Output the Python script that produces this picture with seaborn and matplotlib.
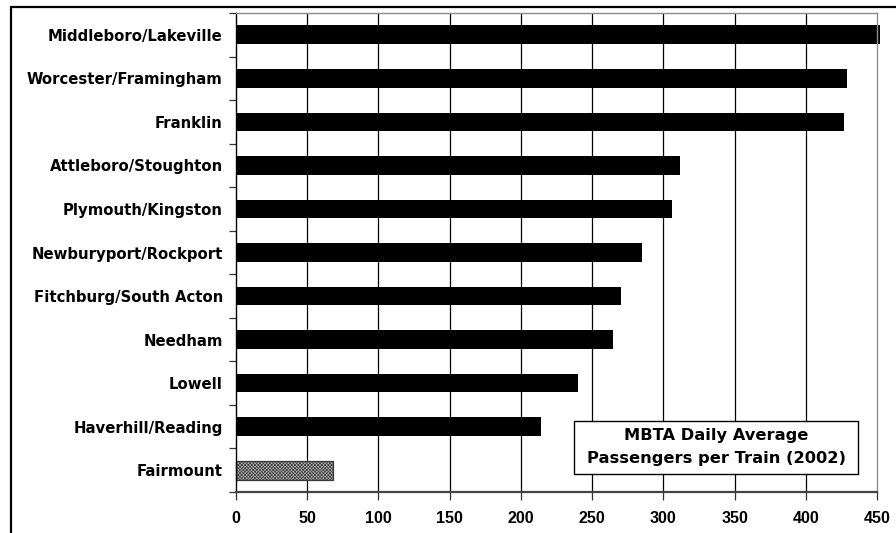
import matplotlib
matplotlib.use("Agg")
import matplotlib.pyplot as plt
from matplotlib.patches import Rectangle
from matplotlib.lines import Line2D
import seaborn as sns
import numpy as np

categories = ["Middleboro/Lakeville", "Worcester/Framingham", "Franklin",
              "Attleboro/Stoughton", "Plymouth/Kingston", "Newburyport/Rockport",
              "Fitchburg/South Acton", "Needham", "Lowell", "Haverhill/Reading",
              "Fairmount"]
passengers = [452, 429, 427, 312, 306, 285, 270, 265, 240, 214, 68]
x_ticks = [0, 50, 100, 150, 200, 250, 300, 350, 400, 450]
box_lines = ["MBTA Daily Average", "Passengers per Train (2002)"]

sns.set_style("white")
plt.rcParams["font.family"] = ["DejaVu Sans"]
plt.rcParams["hatch.linewidth"] = 0.5
plt.rcParams["text.color"] = "black"
plt.rcParams["xtick.color"] = "black"
plt.rcParams["ytick.color"] = "black"
plt.rcParams["axes.labelcolor"] = "black"

W, H = 896, 533
fig = plt.figure(figsize=(W / 100, H / 100), dpi=100)
fig.patch.set_facecolor("white")

left, right, top, bottom = 236, 877, 13, 492
ax = fig.add_axes([left / W, 1 - bottom / H, (right - left) / W, (bottom - top) / H])
ax.set_facecolor("white")

sns.barplot(x=passengers, y=categories, orient="h", width=0.43, color="black",
            saturation=1, ax=ax, zorder=2)
for p in ax.patches:
    p.set_clip_on(False)
    p.set_linewidth(0)
fair = ax.patches[-1]
fair.set_facecolor("#b8b8b8")
fair.set_edgecolor("#3a3a3a")
fair.set_hatch("xxxxxxxxxx")
fair.set_linewidth(0.9)

ax.set_xlim(0, 450)
ax.set_ylim(len(categories) - 0.5, -0.5)
ax.set_xticks(x_ticks)
ax.set_xticklabels([str(v) for v in x_ticks], fontsize=11.5, fontweight="bold",
                   family="Liberation Sans", color="black")
ax.set_xlabel("")
ax.set_ylabel("")

# vertical gridlines
for v in x_ticks[1:-1]:
    ax.axvline(v, color="black", lw=0.9, zorder=1)

ax.tick_params(axis="y", which="major", length=0, pad=9.5, labelsize=10.7,
               labelcolor="black")
for lab in ax.get_yticklabels():
    lab.set_fontweight("bold")
    lab.set_color("black")
ax.set_yticks(np.arange(-0.5, len(categories), 1.0), minor=True)
ax.tick_params(axis="y", which="minor", length=5, width=0.9, color="#333333",
               direction="out", left=True)
ax.tick_params(axis="x", which="major", length=6, width=0.9, color="#333333",
               direction="out", pad=8, bottom=True, labelcolor="black")

for s in ["top", "right"]:
    ax.spines[s].set_color("#8c8c8c")
    ax.spines[s].set_linewidth(1.0)
    ax.spines[s].set_visible(True)
ax.spines["left"].set_color("black")
ax.spines["left"].set_linewidth(1.0)
ax.spines["bottom"].set_color("#444444")
ax.spines["bottom"].set_linewidth(1.6)

# title box
ax.add_patch(Rectangle((0.5273, 0.0376), 0.443, 0.1106, transform=ax.transAxes,
                       facecolor="white", edgecolor="black", lw=1.0, zorder=5))
ax.text(0.749, 0.1173, box_lines[0], transform=ax.transAxes, ha="center",
        va="center", fontsize=11.7, fontweight="bold", color="black", zorder=6)
ax.text(0.749, 0.0693, box_lines[1], transform=ax.transAxes, ha="center",
        va="center", fontsize=11.7, fontweight="bold", color="black", zorder=6)

# outer figure border (cropped on right and bottom)
bx = 11 / W
by = 1 - 7 / H
fig.add_artist(Line2D([bx, bx], [0, by], transform=fig.transFigure, color="black", lw=1.6))
fig.add_artist(Line2D([bx, 1], [by, by], transform=fig.transFigure, color="black", lw=1.6))

fig.savefig("out.png", dpi=100, facecolor="white")
